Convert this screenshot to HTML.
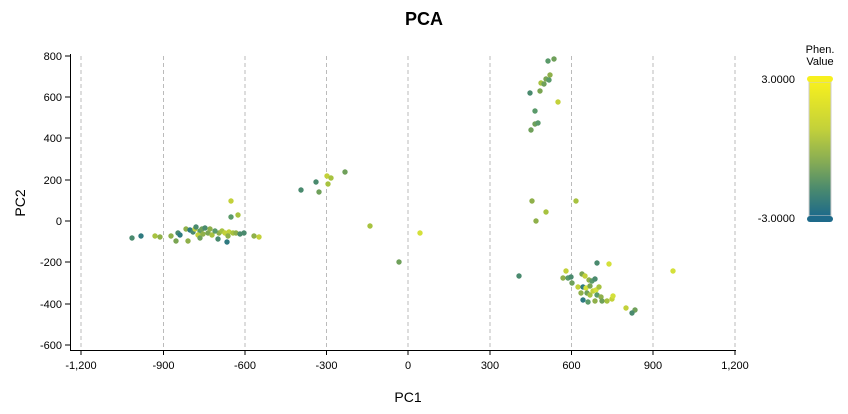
<!DOCTYPE html>
<html><head><style>body{margin:0;background:#fff}svg{display:block;font-family:"Liberation Sans",sans-serif}</style></head>
<body>
<svg width="848" height="414" xmlns="http://www.w3.org/2000/svg">
<defs><linearGradient id="g" x1="0" y1="0" x2="0" y2="1">
<stop offset="0" stop-color="#f7f01e"/><stop offset="0.35" stop-color="#c3d13a"/><stop offset="0.6" stop-color="#85ab55"/><stop offset="0.8" stop-color="#4a8a6e"/><stop offset="1" stop-color="#1e6a8a"/></linearGradient></defs>
<text x="424" y="25" text-anchor="middle" font-size="18" font-weight="bold">PCA</text>
<g stroke="#bbb" stroke-dasharray="4,3" stroke-width="1">
<line x1="81" y1="56" x2="81" y2="350"/><line x1="163.5" y1="56" x2="163.5" y2="350"/><line x1="245" y1="56" x2="245" y2="350"/><line x1="326.5" y1="56" x2="326.5" y2="350"/><line x1="408" y1="56" x2="408" y2="350"/><line x1="490" y1="56" x2="490" y2="350"/><line x1="571.5" y1="56" x2="571.5" y2="350"/><line x1="653" y1="56" x2="653" y2="350"/><line x1="735" y1="56" x2="735" y2="350"/>
</g>
<g stroke="#000" stroke-width="1"><line x1="70.5" y1="54" x2="70.5" y2="350"/><line x1="70" y1="350.5" x2="736" y2="350.5"/>
<line x1="65" y1="56" x2="70" y2="56"/><line x1="65" y1="97" x2="70" y2="97"/><line x1="65" y1="138" x2="70" y2="138"/><line x1="65" y1="180" x2="70" y2="180"/><line x1="65" y1="221" x2="70" y2="221"/><line x1="65" y1="262" x2="70" y2="262"/><line x1="65" y1="304" x2="70" y2="304"/><line x1="65" y1="345" x2="70" y2="345"/>
<line x1="81" y1="350" x2="81" y2="355"/><line x1="163.5" y1="350" x2="163.5" y2="355"/><line x1="245" y1="350" x2="245" y2="355"/><line x1="326.5" y1="350" x2="326.5" y2="355"/><line x1="408" y1="350" x2="408" y2="355"/><line x1="490" y1="350" x2="490" y2="355"/><line x1="571.5" y1="350" x2="571.5" y2="355"/><line x1="653" y1="350" x2="653" y2="355"/><line x1="735" y1="350" x2="735" y2="355"/></g>
<g font-size="11" text-anchor="end"><text x="62" y="60">800</text><text x="62" y="101">600</text><text x="62" y="142">400</text><text x="62" y="184">200</text><text x="62" y="225">0</text><text x="62" y="266">-200</text><text x="62" y="308">-400</text><text x="62" y="349">-600</text></g>
<g font-size="11" text-anchor="middle"><text x="81" y="369">-1,200</text><text x="163.5" y="369">-900</text><text x="245" y="369">-600</text><text x="326.5" y="369">-300</text><text x="408" y="369">0</text><text x="490" y="369">300</text><text x="571.5" y="369">600</text><text x="653" y="369">900</text><text x="735" y="369">1,200</text></g>
<text x="408" y="402" text-anchor="middle" font-size="14">PC1</text>
<text x="25" y="203" text-anchor="middle" font-size="14" transform="rotate(-90 25 203)">PC2</text>
<g>
<circle cx="132" cy="238" r="2.7" fill="#4a8a6e"/><circle cx="141" cy="236" r="2.7" fill="#2f7a80"/><circle cx="155" cy="236" r="2.7" fill="#a7c240"/><circle cx="160" cy="237" r="2.7" fill="#8fb04a"/>
<circle cx="171" cy="236" r="2.7" fill="#8fb04a"/><circle cx="176" cy="241" r="2.7" fill="#7aa552"/><circle cx="178" cy="233" r="2.7" fill="#4a8a6e"/><circle cx="180" cy="235" r="2.7" fill="#2f7a80"/><circle cx="188" cy="241" r="2.7" fill="#8fb04a"/>
<circle cx="186" cy="229" r="2.7" fill="#8fb04a"/><circle cx="190" cy="230" r="2.7" fill="#2f7a80"/><circle cx="193" cy="232" r="2.7" fill="#4a8a6e"/><circle cx="195" cy="229" r="2.7" fill="#c3d13a"/><circle cx="196" cy="227" r="2.7" fill="#4a8a6e"/>
<circle cx="200" cy="231" r="2.7" fill="#5a9a6a"/><circle cx="202" cy="229" r="2.7" fill="#6fa05a"/><circle cx="198" cy="235" r="2.7" fill="#c3d13a"/><circle cx="200" cy="238" r="2.7" fill="#6fa05a"/><circle cx="203" cy="234" r="2.7" fill="#8fb04a"/>
<circle cx="205" cy="228" r="2.7" fill="#4a8a6e"/><circle cx="208" cy="233" r="2.7" fill="#7aa552"/><circle cx="210" cy="229" r="2.7" fill="#8fb04a"/><circle cx="212" cy="235" r="2.7" fill="#a7c240"/><circle cx="218" cy="239" r="2.7" fill="#4a8a6e"/>
<circle cx="219" cy="233" r="2.7" fill="#8fb04a"/><circle cx="222" cy="231" r="2.7" fill="#a7c240"/><circle cx="225" cy="233" r="2.7" fill="#c3d13a"/><circle cx="227" cy="242" r="2.7" fill="#2f7a80"/><circle cx="229" cy="232" r="2.7" fill="#c3d13a"/>
<circle cx="231" cy="201" r="2.7" fill="#c3d13a"/><circle cx="231" cy="217" r="2.7" fill="#5a9a6a"/><circle cx="238" cy="215" r="2.7" fill="#a7c240"/><circle cx="233" cy="233" r="2.7" fill="#a7c240"/><circle cx="236" cy="233" r="2.7" fill="#8fb04a"/><circle cx="240" cy="234" r="2.7" fill="#4a8a6e"/><circle cx="244" cy="233" r="2.7" fill="#4a8a6e"/>
<circle cx="254" cy="236" r="2.7" fill="#8fb04a"/><circle cx="259" cy="237" r="2.7" fill="#c3d13a"/><circle cx="228" cy="236" r="2.7" fill="#8fb04a"/><circle cx="215" cy="231" r="2.7" fill="#5a9a6a"/>
<circle cx="301" cy="190" r="2.7" fill="#4a8a6e"/><circle cx="316" cy="182" r="2.7" fill="#4a8a6e"/><circle cx="319" cy="192" r="2.7" fill="#6fa05a"/><circle cx="327" cy="176" r="2.7" fill="#c3d13a"/><circle cx="331" cy="178" r="2.7" fill="#a7c240"/><circle cx="328" cy="184" r="2.7" fill="#a7c240"/><circle cx="345" cy="172" r="2.7" fill="#6fa05a"/>
<circle cx="370" cy="226" r="2.7" fill="#a7c240"/><circle cx="399" cy="262" r="2.7" fill="#6fa05a"/><circle cx="420" cy="233" r="2.7" fill="#d4e03a"/>
<circle cx="548" cy="61" r="2.7" fill="#5a9a6a"/><circle cx="554" cy="59" r="2.7" fill="#6fa05a"/><circle cx="550" cy="75" r="2.7" fill="#8fb04a"/><circle cx="546" cy="79" r="2.7" fill="#7aa552"/><circle cx="549" cy="80" r="2.7" fill="#5a9a6a"/><circle cx="541" cy="83" r="2.7" fill="#a7c240"/><circle cx="544" cy="84" r="2.7" fill="#6fa05a"/><circle cx="540" cy="91" r="2.7" fill="#7aa552"/>
<circle cx="530" cy="93" r="2.7" fill="#4a8a6e"/><circle cx="558" cy="102" r="2.7" fill="#c3d13a"/><circle cx="535" cy="111" r="2.7" fill="#5a9a6a"/><circle cx="535" cy="124" r="2.7" fill="#6fa05a"/><circle cx="538" cy="123" r="2.7" fill="#5a9a6a"/><circle cx="531" cy="130" r="2.7" fill="#6fa05a"/>
<circle cx="532" cy="201" r="2.7" fill="#8fb04a"/><circle cx="546" cy="212" r="2.7" fill="#a7c240"/><circle cx="536" cy="221" r="2.7" fill="#8fb04a"/><circle cx="576" cy="201" r="2.7" fill="#a7c240"/>
<circle cx="519" cy="276" r="2.7" fill="#4a8a6e"/><circle cx="566" cy="271" r="2.7" fill="#c3d13a"/><circle cx="563" cy="278" r="2.7" fill="#8fb04a"/><circle cx="568" cy="278" r="2.7" fill="#5a9a6a"/><circle cx="571" cy="277" r="2.7" fill="#4a8a6e"/><circle cx="572" cy="283" r="2.7" fill="#6fa05a"/>
<circle cx="582" cy="274" r="2.7" fill="#7aa552"/><circle cx="585" cy="276" r="2.7" fill="#c3d13a"/><circle cx="589" cy="280" r="2.7" fill="#8fb04a"/><circle cx="597" cy="263" r="2.7" fill="#4a8a6e"/><circle cx="609" cy="264" r="2.7" fill="#d4e03a"/><circle cx="673" cy="271" r="2.7" fill="#d4e03a"/>
<circle cx="578" cy="287" r="2.7" fill="#c3d13a"/><circle cx="583" cy="287" r="2.7" fill="#2f7a80"/><circle cx="586" cy="288" r="2.7" fill="#d4e03a"/><circle cx="590" cy="286" r="2.7" fill="#7aa552"/><circle cx="592" cy="281" r="2.7" fill="#5a9a6a"/><circle cx="595" cy="279" r="2.7" fill="#4a8a6e"/>
<circle cx="581" cy="293" r="2.7" fill="#8fb04a"/><circle cx="583" cy="300" r="2.7" fill="#2f7a80"/><circle cx="587" cy="293" r="2.7" fill="#6fa05a"/><circle cx="590" cy="295" r="2.7" fill="#a7c240"/><circle cx="593" cy="291" r="2.7" fill="#c3d13a"/><circle cx="596" cy="290" r="2.7" fill="#d4e03a"/>
<circle cx="597" cy="295" r="2.7" fill="#5a9a6a"/><circle cx="601" cy="297" r="2.7" fill="#8fb04a"/><circle cx="602" cy="301" r="2.7" fill="#6fa05a"/><circle cx="595" cy="301" r="2.7" fill="#8fb04a"/><circle cx="588" cy="302" r="2.7" fill="#5a9a6a"/><circle cx="607" cy="301" r="2.7" fill="#a7c240"/>
<circle cx="612" cy="299" r="2.7" fill="#c3d13a"/><circle cx="613" cy="296" r="2.7" fill="#d4e03a"/><circle cx="599" cy="287" r="2.7" fill="#a7c240"/><circle cx="626" cy="308" r="2.7" fill="#c3d13a"/><circle cx="635" cy="310" r="2.7" fill="#6fa05a"/><circle cx="632" cy="313" r="2.7" fill="#4a8a6e"/>
</g>
<text x="820" y="53" text-anchor="middle" font-size="11">Phen.</text><text x="820" y="65" text-anchor="middle" font-size="11">Value</text>
<rect x="809" y="82" width="22" height="134" fill="url(#g)" stroke="#ccc"/>
<rect x="807" y="76" width="26" height="6" rx="3" fill="#f7f01e"/>
<rect x="807" y="216" width="26" height="6" rx="3" fill="#1e6a8a"/>
<text x="795" y="83" text-anchor="end" font-size="11">3.0000</text><text x="795" y="222" text-anchor="end" font-size="11">-3.0000</text>
</svg>
</body></html>
